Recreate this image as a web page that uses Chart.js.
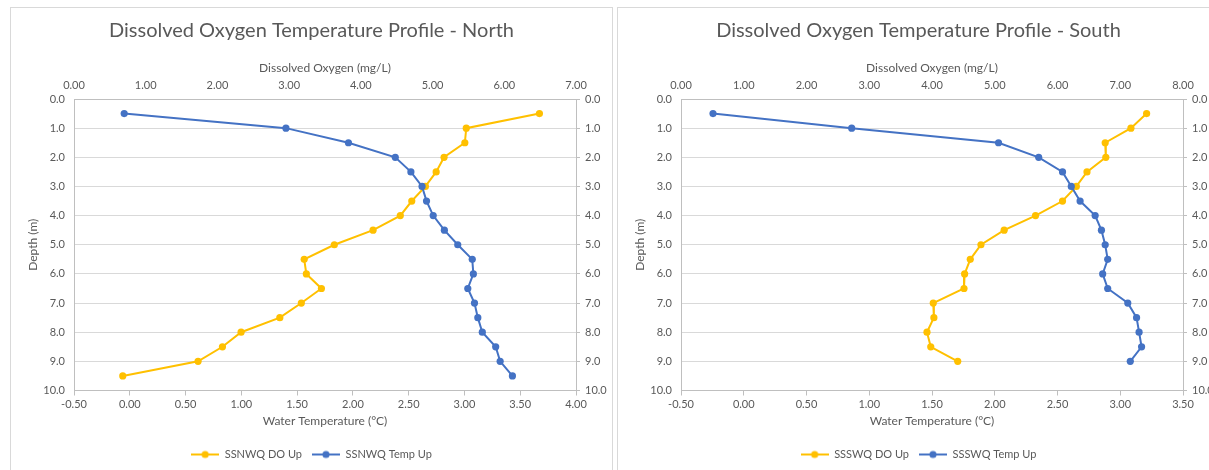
<!DOCTYPE html>
<html>
<head>
<meta charset="utf-8">
<script src="https://cdn.jsdelivr.net/npm/chart.js@4.4.0/dist/chart.umd.min.js"></script>
<style>
  html, body { margin: 0; padding: 0; background: #ffffff; overflow: hidden; width: 1209px; height: 470px; }
  .panel { position: absolute; top: 7px; width: 601px; height: 470px; border: 1px solid #d9d9d9; background: #fff; }
  #p1 { left: 10px; }
  #p2 { left: 617px; }
  .panel canvas { position: absolute; left: 0; top: 0; }
</style>
</head>
<body>
<div class="panel" id="p1"><canvas id="c1" width="601" height="462"></canvas></div>
<div class="panel" id="p2"><canvas id="c2" width="601" height="462"></canvas></div>
<script>
// ---- Data ----
const northDepth = [0.5, 1.0, 1.5, 2.0, 2.5, 3.0, 3.5, 4.0, 4.5, 5.0, 5.5, 6.0, 6.5, 7.0, 7.5, 8.0, 8.5, 9.0, 9.5];
const northDO    = [6.49, 5.47, 5.45, 5.16, 5.05, 4.90, 4.71, 4.55, 4.17, 3.63, 3.21, 3.24, 3.45, 3.17, 2.87, 2.33, 2.07, 1.73, 0.68];
const northTemp  = [-0.05, 1.40, 1.96, 2.38, 2.52, 2.62, 2.66, 2.72, 2.82, 2.94, 3.07, 3.08, 3.03, 3.09, 3.12, 3.16, 3.28, 3.32, 3.43];

const southDepth = [0.5, 1.0, 1.5, 2.0, 2.5, 3.0, 3.5, 4.0, 4.5, 5.0, 5.5, 6.0, 6.5, 7.0, 7.5, 8.0, 8.5, 9.0];
const southDO    = [7.42, 7.17, 6.76, 6.77, 6.47, 6.30, 6.08, 5.65, 5.15, 4.78, 4.61, 4.52, 4.51, 4.02, 4.03, 3.92, 3.98, 4.41];
const southTemp  = [-0.245, 0.86, 2.03, 2.35, 2.54, 2.61, 2.68, 2.80, 2.85, 2.88, 2.90, 2.86, 2.90, 3.06, 3.13, 3.15, 3.17, 3.08];

const northTitle = 'Dissolved Oxygen Temperature Profile - North';
const southTitle = 'Dissolved Oxygen Temperature Profile - South';
const northLabels = ['SSNWQ DO Up', 'SSNWQ Temp Up'];
const southLabels = ['SSSWQ DO Up', 'SSSWQ Temp Up'];
const doAxisTitle = 'Dissolved Oxygen (mg/L)';
const tempAxisTitle = 'Water Temperature (°C)';
const depthAxisTitle = 'Depth (m)';

const northTempRange = [-0.5, 4.0];
const northDORange = [0, 7];
const southTempRange = [-0.5, 3.5];
const southDORange = [0, 8];
const depthRange = [0, 10];

// ---- styling ----
const YELLOW = '#FFC000';
const BLUE = '#4472C4';
const TEXT = '#595959';
const GRID = '#d9d9d9';
const AXIS = '#bfbfbf';
const FONT = 'Lato, "Open Sans", "DejaVu Sans", sans-serif';

function legendIcon(color) {
  const c = document.createElement('canvas');
  c.width = 28; c.height = 10;
  const g = c.getContext('2d');
  g.strokeStyle = color; g.lineWidth = 2;
  g.beginPath(); g.moveTo(0, 5); g.lineTo(28, 5); g.stroke();
  g.fillStyle = color;
  g.beginPath(); g.arc(14, 5, 3.6, 0, Math.PI * 2); g.fill();
  return c;
}

function pts(xs, ys) { return xs.map((v, i) => ({ x: v, y: ys[i] })); }

function makeChart(id, title, labels, depth, dov, temp, tRange, dRange) {
  const ctx = document.getElementById(id);
  return new Chart(ctx, {
    type: 'scatter',
    data: {
      datasets: [
        {
          label: labels[1], data: pts(temp, depth), xAxisID: 'x', yAxisID: 'y',
          showLine: true, borderColor: BLUE, backgroundColor: BLUE, borderWidth: 2,
          pointRadius: 3.6, pointHoverRadius: 3.6, pointBorderWidth: 0, tension: 0
        },
        {
          label: labels[0], data: pts(dov, depth), xAxisID: 'x2', yAxisID: 'y',
          showLine: true, borderColor: YELLOW, backgroundColor: YELLOW, borderWidth: 2,
          pointRadius: 3.6, pointHoverRadius: 3.6, pointBorderWidth: 0, tension: 0
        }
      ]
    },
    options: {
      responsive: false,
      animation: false,
      devicePixelRatio: 1,
      layout: { padding: { top: 0, left: 0, right: 0, bottom: 0 } },
      plugins: {
        tooltip: { enabled: false },
        title: {
          display: true, text: title, color: TEXT,
          font: { family: FONT, size: 20, weight: 'normal', lineHeight: 1.2 },
          padding: { top: 11, bottom: 0 }
        },
        legend: {
          position: 'bottom',
          labels: {
            usePointStyle: true, pointStyleWidth: 28, padding: 10,
            color: TEXT, font: { family: FONT, size: 11 },
            sort: (a, b) => b.datasetIndex - a.datasetIndex,
            generateLabels(chart) {
              const items = Chart.defaults.plugins.legend.labels.generateLabels(chart);
              items.forEach(it => {
                it.pointStyle = legendIcon(chart.data.datasets[it.datasetIndex].borderColor);
              });
              return items;
            }
          }
        }
      },
      scales: {
        x: {
          type: 'linear', position: 'bottom', min: tRange[0], max: tRange[1],
          ticks: { stepSize: 0.5, color: TEXT, font: { family: FONT, size: 11 }, padding: 2,
                   callback: v => v.toFixed(2), maxRotation: 0, autoSkip: false },
          grid: { drawOnChartArea: false, drawTicks: true, tickLength: 5, color: AXIS },
          border: { display: true, color: AXIS },
          title: { display: true, text: tempAxisTitle, color: TEXT,
                   font: { family: FONT, size: 12 }, padding: { top: 0, bottom: 11 } },
          afterFit: s => { s.height = 48.5; }
        },
        x2: {
          type: 'linear', position: 'top', min: dRange[0], max: dRange[1],
          ticks: { stepSize: 1, color: TEXT, font: { family: FONT, size: 11 }, padding: 7,
                   callback: v => v.toFixed(2), maxRotation: 0, autoSkip: false },
          grid: { drawOnChartArea: false, drawTicks: false, color: AXIS },
          border: { display: true, color: AXIS },
          title: { display: true, text: doAxisTitle, color: TEXT,
                   font: { family: FONT, size: 12 }, padding: { top: 18, bottom: 0 } },
          afterFit: s => { s.height = 56; }
        },
        y: {
          type: 'linear', position: 'left', reverse: true, min: depthRange[0], max: depthRange[1],
          ticks: { stepSize: 1, color: TEXT, font: { family: FONT, size: 11 }, padding: 9,
                   callback: v => v.toFixed(1) },
          grid: { drawOnChartArea: true, drawTicks: false, color: GRID },
          border: { display: true, color: AXIS },
          title: { display: true, text: depthAxisTitle, color: TEXT,
                   font: { family: FONT, size: 12 }, padding: { top: 15, bottom: 0 } },
          afterFit: s => { s.width = 63; }
        },
        y2: {
          type: 'linear', position: 'right', reverse: true, min: depthRange[0], max: depthRange[1],
          ticks: { stepSize: 1, color: TEXT, font: { family: FONT, size: 11 }, padding: 5,
                   callback: v => v.toFixed(1) },
          grid: { drawOnChartArea: false, drawTicks: true, tickLength: 4, color: AXIS },
          border: { display: true, color: AXIS },
          afterFit: s => { s.width = 36; }
        }
      }
    }
  });
}

makeChart('c1', northTitle, northLabels, northDepth, northDO, northTemp, northTempRange, northDORange);
makeChart('c2', southTitle, southLabels, southDepth, southDO, southTemp, southTempRange, southDORange);
</script>
</body>
</html>
